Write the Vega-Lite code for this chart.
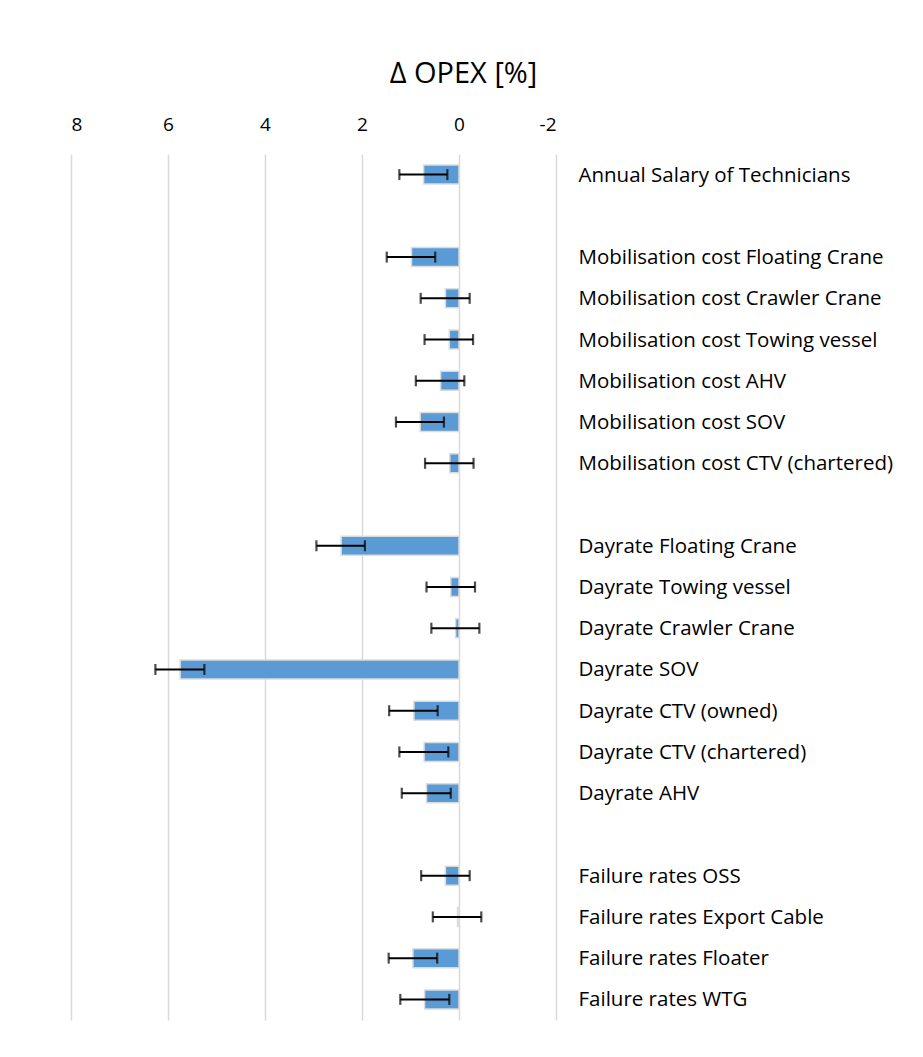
{
  "$schema": "https://vega.github.io/schema/vega-lite/v6.json",
  "width": 485,
  "height": 866,
  "autosize": {"type": "none"},
  "padding": {"left": 71, "top": 154, "right": 367, "bottom": 36},
  "background": "white",
  "title": {"text": "Δ OPEX [%]", "font": "Open Sans", "fontSize": 29, "fontWeight": "normal", "color": "#000000", "dx": 150, "offset": 26},
  "config": {"view": {"stroke": null}},
  "data": {"values": [
    {"factor": "Annual Salary of Technicians", "delta": 0.73, "high": 1.23, "low": 0.24},
    {"factor": "Mobilisation cost Floating Crane", "delta": 0.98, "high": 1.49, "low": 0.49},
    {"factor": "Mobilisation cost Crawler Crane", "delta": 0.28, "high": 0.79, "low": -0.22},
    {"factor": "Mobilisation cost Towing vessel", "delta": 0.2, "high": 0.71, "low": -0.29},
    {"factor": "Mobilisation cost AHV", "delta": 0.38, "high": 0.89, "low": -0.11},
    {"factor": "Mobilisation cost SOV", "delta": 0.8, "high": 1.3, "low": 0.31},
    {"factor": "Mobilisation cost CTV (chartered)", "delta": 0.19, "high": 0.7, "low": -0.3},
    {"factor": "Dayrate Floating Crane", "delta": 2.43, "high": 2.94, "low": 1.94},
    {"factor": "Dayrate Towing vessel", "delta": 0.17, "high": 0.67, "low": -0.33},
    {"factor": "Dayrate Crawler Crane", "delta": 0.07, "high": 0.57, "low": -0.42},
    {"factor": "Dayrate SOV", "delta": 5.75, "high": 6.26, "low": 5.25},
    {"factor": "Dayrate CTV (owned)", "delta": 0.93, "high": 1.44, "low": 0.44},
    {"factor": "Dayrate CTV (chartered)", "delta": 0.72, "high": 1.23, "low": 0.22},
    {"factor": "Dayrate AHV", "delta": 0.67, "high": 1.18, "low": 0.17},
    {"factor": "Failure rates OSS", "delta": 0.28, "high": 0.78, "low": -0.22},
    {"factor": "Failure rates Export Cable", "delta": 0.03, "high": 0.54, "low": -0.46},
    {"factor": "Failure rates Floater", "delta": 0.95, "high": 1.45, "low": 0.45},
    {"factor": "Failure rates WTG", "delta": 0.71, "high": 1.21, "low": 0.2}
  ]},
  "encoding": {
    "y": {
      "field": "factor", "type": "nominal",
      "scale": {"domain": [
        "Annual Salary of Technicians", " ",
        "Mobilisation cost Floating Crane", "Mobilisation cost Crawler Crane", "Mobilisation cost Towing vessel", "Mobilisation cost AHV", "Mobilisation cost SOV", "Mobilisation cost CTV (chartered)", "  ",
        "Dayrate Floating Crane", "Dayrate Towing vessel", "Dayrate Crawler Crane", "Dayrate SOV", "Dayrate CTV (owned)", "Dayrate CTV (chartered)", "Dayrate AHV", "   ",
        "Failure rates OSS", "Failure rates Export Cable", "Failure rates Floater", "Failure rates WTG"
      ], "paddingInner": 0.5, "paddingOuter": 0.25},
      "axis": {"orient": "right", "title": null, "domain": false, "ticks": false, "grid": false, "labelPadding": 22, "labelLimit": 0, "labelFont": "Open Sans", "labelFontSize": 20.5, "labelColor": "#000000", "labelAlign": "left", "labelBaseline": "middle", "labelOffset": 1}
    }
  },
  "layer": [
    {
      "mark": {"type": "bar", "color": "#5B9BD5", "stroke": "#dcdcdc", "strokeWidth": 1.5, "size": 19},
      "encoding": {
        "x": {
          "field": "delta", "type": "quantitative",
          "scale": {"domain": [-2, 8], "reverse": true, "nice": false, "zero": false},
          "axis": {"orient": "top", "title": null, "values": [8, 6, 4, 2, 0, -2], "labelExpr": "datum.value < 0 ? '-' + abs(datum.value) : '' + datum.value", "domain": false, "ticks": false, "grid": true, "gridColor": "#d9d9d9", "gridWidth": 1.5, "labelPadding": 20, "labelFont": "Open Sans", "labelFontSize": 19, "labelColor": "#000000"}
        }
      }
    },
    {
      "mark": {"type": "rule", "color": "#000000", "strokeWidth": 2},
      "encoding": {
        "x": {"field": "low", "type": "quantitative"},
        "x2": {"field": "high"}
      }
    },
    {
      "mark": {"type": "tick", "color": "#000000", "thickness": 2.2, "size": 11},
      "encoding": {"x": {"field": "low", "type": "quantitative"}}
    },
    {
      "mark": {"type": "tick", "color": "#000000", "thickness": 2.2, "size": 11},
      "encoding": {"x": {"field": "high", "type": "quantitative"}}
    }
  ]
}
